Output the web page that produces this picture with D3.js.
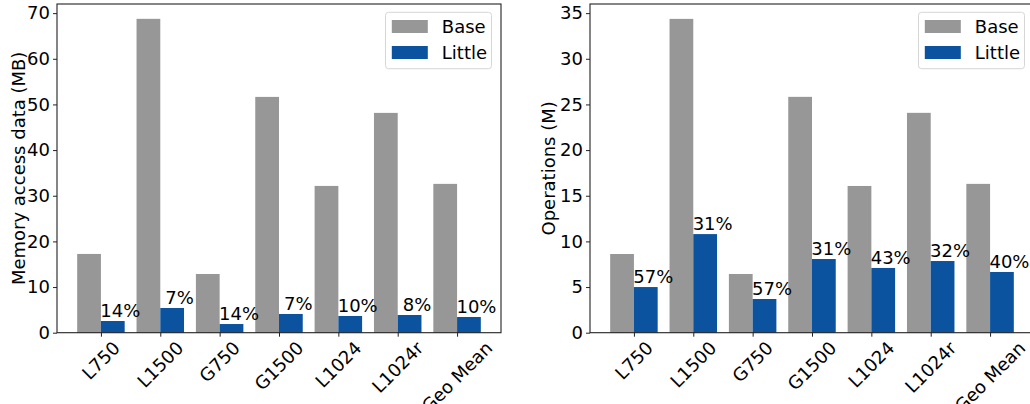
<!DOCTYPE html>
<html>
<head>
<meta charset="utf-8">
<script src="https://cdn.jsdelivr.net/npm/d3@7"></script>
<style>
  html, body { margin: 0; padding: 0; background: #fff; }
  svg text { font-family: "DejaVu Sans", sans-serif; fill: #000; }
</style>
</head>
<body>
<svg id="chart" width="1030" height="404"></svg>
<script>
// two side-by-side grouped bar panels: Base vs Little
const categories = ['L750', 'L1500', 'G750', 'G1500', 'L1024', 'L1024r', 'Geo Mean'];
const seriesNames = ['Base', 'Little'];

const memBase   = [17.25, 68.75, 12.86, 51.65, 32.15, 48.15, 32.6];
const memLittle = [2.56, 5.41, 1.9, 4.1, 3.66, 3.88, 3.44];
const memPct    = ['14%', '7%', '14%', '7%', '10%', '8%', '10%'];
const memTicks  = [0, 10, 20, 30, 40, 50, 60, 70];

const opsBase   = [8.62, 34.37, 6.43, 25.83, 16.07, 24.08, 16.3];
const opsLittle = [5.0, 10.8, 3.69, 8.07, 7.09, 7.85, 6.65];
const opsPct    = ['57%', '31%', '57%', '31%', '43%', '32%', '40%'];
const opsTicks  = [0, 5, 10, 15, 20, 25, 30, 35];

const colors = { Base: '#979797', Little: '#0b539e' };
const FS = 18;
const svg = d3.select('#chart');

function panel(opt) {
  const { left, right, top, bottom, ymax, base, little, pct, ticks, label, labelX } = opt;
  const g = svg.append('g');
  const x = d3.scaleLinear().domain([-0.74, categories.length - 1 + 0.74]).range([left, right]);
  const y = d3.scaleLinear().domain([0, ymax]).range([bottom, top]);
  const bw = x(0.4) - x(0);

  // bars
  g.selectAll('rect.base').data(base).join('rect')
    .attr('x', (d, i) => x(i - 0.4)).attr('y', d => y(d))
    .attr('width', bw).attr('height', d => y(0) - y(d))
    .attr('fill', colors.Base);
  g.selectAll('rect.little').data(little).join('rect')
    .attr('x', (d, i) => x(i)).attr('y', d => y(d))
    .attr('width', bw).attr('height', d => y(0) - y(d))
    .attr('fill', colors.Little);

  // percentage labels
  g.selectAll('text.pct').data(little).join('text')
    .attr('x', (d, i) => x(i + 0.2) + 7.5).attr('y', d => y(d) - 4)
    .attr('text-anchor', 'middle').style('font-size', FS + 'px')
    .text((d, i) => pct[i]);

  // spines
  g.append('rect').attr('x', left).attr('y', top)
    .attr('width', right - left).attr('height', bottom - top)
    .attr('fill', 'none').attr('stroke', '#222').attr('stroke-width', 1.1);

  // y axis
  const ya = g.append('g').attr('transform', `translate(${left},0)`)
    .call(d3.axisLeft(y).tickValues(ticks).tickSize(4).tickPadding(3).tickFormat(d3.format('d')));
  ya.select('.domain').remove();
  ya.selectAll('line').attr('stroke', '#222');
  ya.selectAll('text').style('font-size', FS + 'px').style('font-family', '"DejaVu Sans", sans-serif');

  // x axis ticks
  const xa = g.append('g').attr('transform', `translate(0,${bottom})`)
    .call(d3.axisBottom(x).tickValues(d3.range(categories.length)).tickSize(4).tickFormat(''));
  xa.select('.domain').remove();
  xa.selectAll('line').attr('stroke', '#222');

  // rotated x tick labels, bbox centred under tick
  const xl = g.selectAll('text.xl').data(categories).join('text')
    .attr('text-anchor', 'middle').attr('dy', '0.35em')
    .style('font-size', FS + 'px').text(d => d);
  xl.each(function (d, i) {
    const w = this.getComputedTextLength();
    const h = (w + 13) * Math.SQRT1_2;
    const cy = bottom + 7.5 + h / 2;
    d3.select(this).attr('transform', `translate(${x(i)},${cy}) rotate(-45)`);
  });

  // y label
  g.append('text')
    .attr('transform', `translate(${labelX},${(top + bottom) / 2}) rotate(-90)`)
    .attr('text-anchor', 'middle').style('font-size', FS + 'px').text(label);

  // legend
  const lx = right - 9.5 - 106, ly = top + 8.3;
  const lg = g.append('g');
  lg.append('rect').attr('x', lx).attr('y', ly).attr('width', 106).attr('height', 56.4)
    .attr('rx', 3).attr('fill', 'rgba(255,255,255,0.8)').attr('stroke', '#d6d6d6');
  seriesNames.forEach((s, k) => {
    lg.append('rect').attr('x', lx + 6.3).attr('y', ly + 7.7 + k * 26)
      .attr('width', 36).attr('height', 13).attr('fill', colors[s]);
    lg.append('text').attr('x', lx + 56.3).attr('y', ly + 20.7 + k * 25.5)
      .style('font-size', FS + 'px').text(s);
  });
}

panel({ left: 57, right: 501, top: 4, bottom: 332.7, ymax: 72,
  base: memBase, little: memLittle, pct: memPct, ticks: memTicks,
  label: 'Memory access data (MB)', labelX: 25 });
panel({ left: 590, right: 1034, top: 4, bottom: 332.7, ymax: 36,
  base: opsBase, little: opsLittle, pct: opsPct, ticks: opsTicks,
  label: 'Operations (M)', labelX: 555 });
</script>
</body>
</html>
